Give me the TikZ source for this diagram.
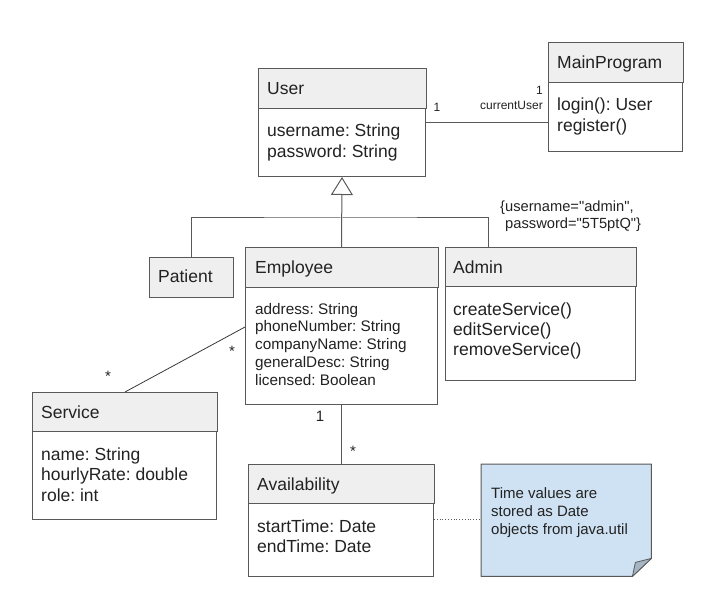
\documentclass[tikz,border=0pt]{standalone}
\usepackage{fontspec}
\setmainfont{Liberation Sans}[Ligatures=TeXOff]
\usetikzlibrary{arrows.meta,calc}
\definecolor{hdr}{HTML}{EFEFEF}
\definecolor{edge}{HTML}{595959}
\definecolor{ink}{HTML}{222222}
\definecolor{notefill}{HTML}{CFE2F3}
\definecolor{foldfill}{HTML}{A6B5C4}
\newcommand\umlbox[6]{%
  \node[box, minimum width=#4pt, minimum height=#5pt] (#1) at (#2,#3) {};
  \draw[hdrbox] (#1.north west) rectangle ([yshift=-#6pt]#1.north east);}
\frenchspacing
\begin{document}
\begin{tikzpicture}[x=1pt,y=-1pt,
  box/.style={draw=edge, line width=1pt, fill=white, rectangle, inner sep=0pt, anchor=north west},
  hdrbox/.style={draw=edge, line width=1pt, fill=hdr},
  ttl/.style={font=\fontsize{17.5}{21}\selectfont, text=ink, anchor=base west, inner sep=0pt},
  attr/.style={font=\fontsize{17.5}{21}\selectfont, text=ink, anchor=base west, inner sep=0pt},
  sattr/.style={font=\fontsize{15.3}{18}\selectfont, text=ink, anchor=base west, inner sep=0pt},
  notetxt/.style={font=\fontsize{15}{18}\selectfont, text=ink, anchor=base west, inner sep=0pt},
  cons/.style={font=\fontsize{14.7}{17}\selectfont, text=ink, anchor=base west, inner sep=0pt},
  mult/.style={font=\fontsize{15}{17}\selectfont, text=ink, anchor=base, inner sep=0pt},
  smallmult/.style={font=\fontsize{12}{14}\selectfont, text=ink, inner sep=0pt},
  conn/.style={draw=edge, line width=1pt},
]
\frenchspacing
\useasboundingbox (0,0) rectangle (706,601);

% classes
\umlbox{user}{258}{69}{167}{107}{40}
\umlbox{main}{548}{43}{134}{108}{40}
\node[box, fill=hdr, minimum width=84pt, minimum height=40pt] (patient) at (149,257) {};
\umlbox{emp}{245}{248}{192}{156}{40}
\umlbox{admin}{445}{248}{190}{132}{39}
\umlbox{service}{32}{392}{184}{127}{39}
\umlbox{avail}{248}{464}{185}{112}{39}

% note
\node[inner sep=0pt, anchor=north west, minimum width=170pt, minimum height=112pt] (note) at (481,464) {};
\draw[edge, line width=1pt, fill=notefill, line join=round]
  (note.north west) -- (note.north east) -- ($(note.south east)+(0,-18)$)
  -- ($(note.south east)+(-19,0)$) -- (note.south west) -- cycle;
\draw[edge, line width=0.8pt, fill=foldfill, line join=round]
  ($(note.south east)+(0,-18)$) -- ($(note.south east)+(-19,0)$) -- ($(note.south east)+(-16,-14)$) -- cycle;

% titles
\node[ttl] (usert) at (267,95) {User};
\node[ttl] (maint) at (557,69) {MainProgram};
\node[ttl] (patt) at (158,283) {Patient};
\node[ttl] (empt) at (255,274) {Employee};
\node[ttl] (admt) at (453,274) {Admin};
\node[ttl] (sert) at (41,418) {Service};
\node[ttl] (avat) at (257,490) {Availability};

% attributes / operations
\foreach \t [count=\i] in {username: String, password: String}
  \node[attr] (ua\i) at (267,{137+(\i-1)*20.5}) {\t};
\foreach \t [count=\i] in {login(): User, register()}
  \node[attr] (ma\i) at (557,{111+(\i-1)*20.5}) {\t};
\foreach \t [count=\i] in {address: String, phoneNumber: String, companyName: String, generalDesc: String, licensed: Boolean}
  \node[sattr] (ea\i) at (255,{314+(\i-1)*17.75}) {\t};
\foreach \t [count=\i] in {createService(), editService(), removeService()}
  \node[attr] (aa\i) at (453,{316+(\i-1)*19.5}) {\t};
\foreach \t [count=\i] in {name: String, hourlyRate: double, role: int}
  \node[attr] (sa\i) at (41,{460+(\i-1)*20.5}) {\t};
\foreach \t [count=\i] in {startTime: Date, endTime: Date}
  \node[attr] (va\i) at (257,{532+(\i-1)*20.5}) {\t};
\foreach \t [count=\i] in {Time values are, stored as Date, objects from java.util}
  \node[notetxt] (nt\i) at (491,{498+(\i-1)*18}) {\t};

% constraint
\node[cons] (c1) at (500,212) {\{username="admin",};
\node[cons] (c2) at (505,229) {password="5T5ptQ"\}};

% association User -- MainProgram
\draw[conn] (user.east) -- (user.east -| main.west);
\node[smallmult, anchor=base] (m1) at (437,112) {1};
\node[smallmult, anchor=base east] (m2) at (543,95) {1};
\node[smallmult, anchor=base east] (m3) at (543,110) {currentUser};

% generalization
\coordinate (gj) at ($(emp.north)+(0,-30)$);
\coordinate (adtop) at ($(admin.north west)+(43,0)$);
\draw[conn, -{Triangle[open,length=18pt,width=22pt]}] (emp.north) -- (user.south);
\draw[conn] (patient.north) |- (gj) -| (adtop);

% Employee -- Service
\draw[draw=ink!90, line width=0.8pt] ($(emp.north west)+(0,79)$) -- ($(service.north west)+(93,0)$);
\node[mult] (s1) at (232,356) {*};
\node[mult] (s2) at (108,381) {*};

% Employee -- Availability
\draw[conn] (emp.south) -- (emp.south |- avail.north);
\node[mult] (s3) at (320,421) {1};
\node[mult] (s4) at (353,456) {*};

% note link
\draw[edge, dotted, line width=0.8pt] ($(avail.north east)+(0,55)$) -- ($(note.north west)+(0,55)$);
\end{tikzpicture}
\end{document}
